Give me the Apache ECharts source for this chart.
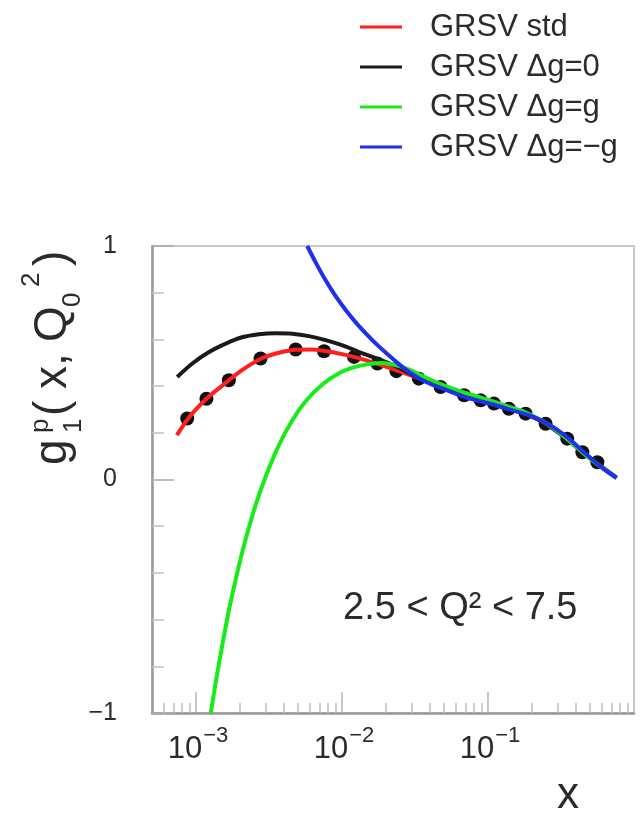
<!DOCTYPE html>
<html>
<head>
<meta charset="utf-8">
<script src="https://cdn.jsdelivr.net/npm/echarts@6/dist/echarts.min.js"></script>
<style>
html,body{margin:0;padding:0;background:#fff;}
#chart{width:643px;height:815px;}
</style>
</head>
<body>
<div id="chart"></div>
<script>
// ---- data ----
const xMajorTicks = [0.001, 0.01, 0.1];
const xMinorTicks = [0.0006, 0.0007, 0.0008, 0.0009,
  0.002, 0.003, 0.004, 0.005, 0.006, 0.007, 0.008, 0.009,
  0.02, 0.03, 0.04, 0.05, 0.06, 0.07, 0.08, 0.09,
  0.2, 0.3, 0.4, 0.5, 0.6, 0.7, 0.8, 0.9];
const yTicks = [-1, 0, 1];

const dataX = [8.71e-4, 1.18e-3, 1.68e-3, 2.77e-3, 4.82e-3, 7.53e-3, 1.21e-2, 1.75e-2, 2.36e-2, 3.36e-2,
  4.74e-2, 6.86e-2, 8.91e-2, 0.110, 0.139, 0.181, 0.248, 0.349, 0.443, 0.561];
const dataY = [0.261, 0.346, 0.425, 0.518, 0.557, 0.549, 0.525, 0.497, 0.464, 0.432,
  0.396, 0.361, 0.339, 0.325, 0.303, 0.282, 0.239, 0.175, 0.117, 0.074];

const stdX = [7.4e-4, 8.7e-4, 1.0e-3, 1.2e-3, 1.5e-3, 2.0e-3, 2.8e-3, 3.7e-3, 4.8e-3, 6.2e-3, 7.5e-3, 1.0e-2,
  1.3e-2, 1.75e-2, 2.4e-2, 3.4e-2, 4.7e-2, 6.9e-2, 9.0e-2, 0.11, 0.14, 0.18, 0.25, 0.35, 0.45, 0.56, 0.76];
const stdY = [0.19, 0.255, 0.3, 0.35, 0.40, 0.462, 0.518, 0.543, 0.556, 0.557, 0.551, 0.537,
  0.52, 0.495, 0.466, 0.432, 0.398, 0.362, 0.34, 0.325, 0.304, 0.282, 0.238, 0.172, 0.114, 0.068, 0.008];

const dg0X = [7.44e-4, 9.44e-4, 1.23e-3, 1.6e-3, 2.07e-3, 2.7e-3, 3.5e-3, 4.57e-3, 5.94e-3, 7.73e-3, 1.0e-2,
  1.31e-2, 1.7e-2, 2.21e-2, 2.8e-2, 3.4e-2, 4.7e-2, 6.9e-2, 9.0e-2, 0.11, 0.14, 0.18, 0.25, 0.35, 0.45, 0.56, 0.76];
const dg0Y = [0.439, 0.497, 0.546, 0.582, 0.609, 0.622, 0.626, 0.624, 0.614, 0.597, 0.575,
  0.546, 0.52, 0.492, 0.46, 0.432, 0.398, 0.362, 0.34, 0.325, 0.304, 0.282, 0.238, 0.172, 0.114, 0.068, 0.008];

const dggX = [1.262e-3, 1.439e-3, 1.682e-3, 1.97e-3, 2.19e-3, 2.56e-3, 3.0e-3, 3.7e-3, 4.57e-3, 5.64e-3, 7.33e-3,
  9.53e-3, 1.2e-2, 1.5e-2, 1.9e-2, 2.4e-2, 3.0e-2, 3.4e-2, 4.7e-2, 6.9e-2, 9.0e-2, 0.11, 0.14, 0.18, 0.25,
  0.35, 0.45, 0.56, 0.76];
const dggY = [-1.0, -0.787, -0.56, -0.368, -0.256, -0.11, 0.012, 0.147, 0.254, 0.335, 0.407,
  0.455, 0.48, 0.494, 0.499, 0.488, 0.466, 0.449, 0.41, 0.372, 0.35, 0.333, 0.311, 0.288, 0.242,
  0.173, 0.113, 0.066, 0.007];

const dgmX = [5.78e-3, 6.6e-3, 7.73e-3, 9.0e-3, 1.06e-2, 1.25e-2, 1.45e-2, 1.7e-2, 1.99e-2, 2.33e-2, 2.8e-2,
  3.4e-2, 4.0e-2, 5.0e-2, 6.7e-2, 9.0e-2, 0.113, 0.14, 0.191, 0.248, 0.34, 0.467, 0.6, 0.76];
const dgmY = [1.0, 0.93, 0.853, 0.787, 0.726, 0.671, 0.627, 0.583, 0.544, 0.506, 0.466,
  0.432, 0.41, 0.387, 0.356, 0.334, 0.318, 0.3, 0.275, 0.244, 0.187, 0.11, 0.052, 0.006];

const seriesNames = ['GRSV std', 'GRSV Δg=0', 'GRSV Δg=g', 'GRSV Δg=−g'];
const annotation = '2.5 < Q² < 7.5';

// ---- chart ----
const FONT = "'Liberation Sans', Arial, Helvetica, sans-serif";
const TXT = '#2b2b2b';
const zip = (xs, ys) => xs.map((x, i) => [x, ys[i]]);
const xMin = 5e-4, xMax = 1;
const lgMin = Math.log10(xMin), lgMax = Math.log10(xMax);

const chart = echarts.init(document.getElementById('chart'), null, {renderer: 'canvas'});

function lineSeries(name, xs, ys, color) {
  return {
    name: name, type: 'line', xAxisIndex: 0, yAxisIndex: 0,
    data: zip(xs, ys), smooth: 0.3, showSymbol: false, symbol: 'none',
    lineStyle: {color: color, width: 4}, itemStyle: {color: color},
    z: 3, clip: true
  };
}

chart.setOption({
  animation: false,
  backgroundColor: '#fff',
  textStyle: {fontFamily: FONT},
  grid: {left: 152, right: 9, top: 246, bottom: 102, show: true,
    borderColor: '#c8c8c8', borderWidth: 2, backgroundColor: 'transparent'},
  legend: {
    orient: 'vertical', left: 355, top: 2, itemWidth: 42, itemHeight: 3, itemGap: 0,
    icon: 'rect', data: seriesNames,
    textStyle: {fontSize: 31, color: TXT, fontFamily: FONT, lineHeight: 32, padding: [0, 0, 8, 23]}
  },
  xAxis: [
    {
      type: 'log', logBase: 10, min: xMin, max: xMax, position: 'bottom',
      axisLine: {show: true, onZero: false, lineStyle: {color: '#999', width: 2.5}},
      axisTick: {show: false}, axisLabel: {show: false}, splitLine: {show: false}
    },
    {
      type: 'value', min: lgMin, max: lgMax, position: 'bottom',
      axisLine: {show: false, onZero: false}, splitLine: {show: false},
      axisTick: {show: true, inside: true, length: 21, customValues: xMajorTicks.map(Math.log10),
        lineStyle: {color: '#b4b4b4', width: 1.5}},
      axisLabel: {
        show: true, margin: 12, customValues: xMajorTicks.map(Math.log10),
        formatter: v => '{b|10}{s|−' + Math.round(-v) + '}',
        rich: {
          b: {fontSize: 31, lineHeight: 40, verticalAlign: 'bottom', color: TXT, fontFamily: FONT, padding: [0, 1, 0, 4]},
          s: {fontSize: 22, lineHeight: 20, verticalAlign: 'top', color: TXT, fontFamily: FONT}
        }
      }
    },
    {
      type: 'value', min: lgMin, max: lgMax, position: 'bottom',
      axisLine: {show: false, onZero: false}, splitLine: {show: false}, axisLabel: {show: false},
      axisTick: {show: true, inside: true, length: 10, customValues: xMinorTicks.map(Math.log10),
        lineStyle: {color: '#c0c0c0', width: 1.5}}
    }
  ],
  yAxis: {
    type: 'value', min: yTicks[0], max: yTicks[yTicks.length - 1], interval: 1, position: 'left',
    axisLine: {show: true, onZero: false, lineStyle: {color: '#999', width: 2.5}},
    axisTick: {show: true, inside: true, length: 22, lineStyle: {color: '#aaa', width: 1.5}},
    minorTick: {show: true, splitNumber: 5, length: 12, lineStyle: {color: '#c0c0c0', width: 1.5}},
    splitLine: {show: false}, minorSplitLine: {show: false},
    axisLabel: {margin: 35, fontSize: 25, color: TXT, fontFamily: FONT,
      formatter: v => (v < 0 ? '−' + (-v) : '' + v)}
  },
  series: [
    {
      name: 'data', type: 'scatter', xAxisIndex: 0, yAxisIndex: 0,
      data: zip(dataX, dataY), symbol: 'circle', symbolSize: 14,
      itemStyle: {color: '#111', opacity: 1}, z: 2
    },
    lineSeries(seriesNames[0], stdX, stdY, '#ff1f1f'),
    lineSeries(seriesNames[1], dg0X, dg0Y, '#1a1a1a'),
    lineSeries(seriesNames[2], dggX, dggY, '#18ec18'),
    lineSeries(seriesNames[3], dgmX, dgmY, '#1f2ff0')
  ],
  graphic: [
    {type: 'text', x: 343, y: 609,
      style: {text: annotation, fontSize: 38, fontFamily: FONT, fill: TXT, align: 'left', verticalAlign: 'middle'}},
    {type: 'text', x: 568, y: 796,
      style: {text: 'x', fontSize: 44, fontFamily: FONT, fill: TXT, align: 'center', verticalAlign: 'middle'}},
    {type: 'group', x: 53, y: 467, rotation: Math.PI / 2, children: [
      {type: 'text', x: 2, y: 0, style: {text: 'g', fontSize: 46, fontFamily: FONT, fill: TXT, align: 'left', verticalAlign: 'middle'}},
      {type: 'text', x: 34, y: 21, style: {text: '1', fontSize: 26, fontFamily: FONT, fill: TXT, align: 'left', verticalAlign: 'middle'}},
      {type: 'text', x: 34, y: -12, style: {text: 'p', fontSize: 26, fontFamily: FONT, fill: TXT, align: 'left', verticalAlign: 'middle'}},
      {type: 'text', x: 51, y: 0, style: {text: '(', fontSize: 46, fontFamily: FONT, fill: TXT, align: 'left', verticalAlign: 'middle'}},
      {type: 'text', x: 78, y: 0, style: {text: 'x', fontSize: 46, fontFamily: FONT, fill: TXT, align: 'left', verticalAlign: 'middle'}},
      {type: 'text', x: 101, y: 0, style: {text: ',', fontSize: 46, fontFamily: FONT, fill: TXT, align: 'left', verticalAlign: 'middle'}},
      {type: 'text', x: 125, y: 0, style: {text: 'Q', fontSize: 46, fontFamily: FONT, fill: TXT, align: 'left', verticalAlign: 'middle'}},
      {type: 'text', x: 160, y: 20, style: {text: '0', fontSize: 26, fontFamily: FONT, fill: TXT, align: 'left', verticalAlign: 'middle'}},
      {type: 'text', x: 180, y: -21, style: {text: '2', fontSize: 26, fontFamily: FONT, fill: TXT, align: 'left', verticalAlign: 'middle'}},
      {type: 'text', x: 201, y: 0, style: {text: ')', fontSize: 46, fontFamily: FONT, fill: TXT, align: 'left', verticalAlign: 'middle'}}
    ]}
  ]
});
</script>
</body>
</html>
